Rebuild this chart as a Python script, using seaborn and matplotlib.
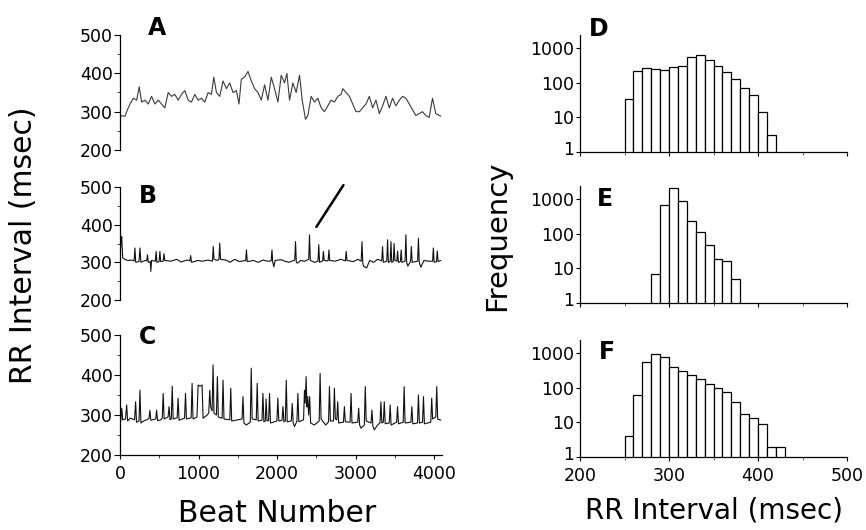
import numpy as np
import pandas as pd
import matplotlib
matplotlib.use("Agg")
import matplotlib.pyplot as plt
import matplotlib.transforms as mtransforms
from matplotlib.ticker import MultipleLocator, FixedLocator, LogLocator, NullFormatter
import seaborn as sns

sns.set_theme(style="white")
plt.rcParams['font.family'] = ['DejaVu Sans']

# ---------------- data ----------------
a_beat = [0, 63, 85, 127, 169, 212, 245, 275, 317, 360, 402, 444, 487, 529, 571, 614, 656, 698,
          741, 783, 825, 868, 910, 952, 995, 1037, 1079, 1122, 1164, 1194, 1228, 1270, 1312, 1355,
          1397, 1439, 1482, 1515, 1545, 1587, 1630, 1672, 1714, 1757, 1799, 1841, 1884, 1926, 1968,
          2011, 2053, 2095, 2125, 2159, 2201, 2243, 2286, 2320, 2362, 2392, 2434, 2476, 2519, 2561,
          2603, 2646, 2688, 2730, 2773, 2815, 2836, 2878, 2921, 2963, 3005, 3048, 3090, 3132, 3175,
          3217, 3259, 3302, 3344, 3386, 3429, 3471, 3513, 3556, 3598, 3640, 3683, 3725, 3767, 3810,
          3852, 3894, 3937, 3979, 4021, 4085]
a_rr = [290, 288, 300, 320, 335, 330, 365, 325, 330, 320, 340, 320, 330, 320, 310, 350, 340, 345,
        330, 345, 355, 330, 325, 345, 330, 335, 325, 350, 345, 390, 350, 340, 380, 360,
        375, 350, 355, 320, 385, 390, 405, 380, 360, 350, 330, 370, 330, 390, 360,
        325, 395, 375, 400, 330, 375, 350, 395, 330, 280, 290, 340, 325, 335, 310,
        300, 315, 330, 325, 340, 345, 360, 350, 340, 320, 300, 300, 310, 320, 340,
        310, 330, 295, 315, 340, 310, 335, 315, 330, 340, 335, 320, 305, 290, 295,
        300, 290, 285, 335, 295, 288]

b_beat = [0, 12, 22, 34, 60, 100, 150, 180, 190, 200, 242, 254, 266, 320, 340, 350, 360, 385, 393,
          401, 450, 460, 470, 498, 508, 518, 550, 560, 570, 650, 720, 780, 850, 890, 900, 910, 990,
          1050, 1120, 1177, 1187, 1197, 1240, 1260, 1270, 1280, 1350, 1400, 1460, 1520, 1600, 1610,
          1620, 1700, 1760, 1820, 1880, 1925, 1935, 1945, 1960, 1975, 2050, 2100, 2150, 2225, 2235,
          2245, 2260, 2300, 2350, 2403, 2413, 2423, 2480, 2521, 2531, 2541, 2580, 2590, 2600, 2650,
          2660, 2670, 2740, 2810, 2870, 2880, 2890, 2970, 3030, 3071, 3081, 3091, 3100, 3140, 3180,
          3230, 3280, 3333, 3343, 3353, 3397, 3407, 3417, 3440, 3450, 3460, 3480, 3490, 3500, 3525,
          3535, 3545, 3570, 3580, 3590, 3630, 3640, 3650, 3665, 3700, 3710, 3720, 3790, 3800, 3810,
          3830, 3870, 3930, 3980, 3990, 4000, 4030, 4040, 4050, 4084]
b_rr = [310, 355, 368, 312, 308, 305, 306, 304, 338, 300, 302, 338, 300, 305, 304, 320, 300, 302, 276,
        305, 303, 329, 300, 302, 329, 302, 303, 323, 305, 303, 308, 301, 306, 304, 318, 300, 305,
        303, 306, 303, 342, 308, 305, 308, 351, 308, 306, 300, 308, 302, 305, 333,
        302, 305, 300, 306, 303, 304, 333, 300, 288, 305, 307, 303, 300, 306, 355,
        300, 298, 305, 303, 308, 373, 305, 300, 303, 347, 300, 304, 329, 305, 304,
        333, 305, 303, 308, 304, 329, 305, 302, 308, 303, 355, 300, 290, 285, 305,
        300, 308, 304, 342, 300, 303, 360, 300, 302, 355, 300, 303, 350, 305, 303,
        330, 300, 302, 333, 300, 303, 373, 300, 290, 303, 342, 300, 303, 364, 300,
        287, 305, 303, 303, 338, 300, 302, 330, 302, 305]

c_beat = [0, 10, 22, 35, 70, 85, 97, 130, 185, 199, 210, 242, 254, 266, 300, 340, 370, 381, 392,
          455, 466, 478, 520, 538, 550, 562, 612, 625, 637, 653, 665, 677, 728, 740, 752, 822, 834,
          846, 906, 918, 930, 980, 995, 1020, 1045, 1058, 1110, 1130, 1143, 1155, 1173, 1185, 1197,
          1228, 1240, 1252, 1300, 1312, 1324, 1398, 1410, 1422, 1500, 1554, 1566, 1578, 1608, 1659,
          1671, 1683, 1735, 1747, 1759, 1808, 1820, 1832, 1850, 1860, 1872, 1892, 1904, 1916, 1950,
          1998, 2010, 2022, 2063, 2075, 2087, 2105, 2117, 2129, 2181, 2193, 2205, 2222, 2253, 2265,
          2277, 2337, 2349, 2358, 2370, 2380, 2390, 2402, 2415, 2427, 2475, 2536, 2548, 2560, 2620,
          2655, 2667, 2679, 2718, 2730, 2742, 2760, 2772, 2784, 2845, 2857, 2869, 2930, 2942, 2954,
          3027, 3039, 3051, 3068, 3111, 3123, 3135, 3196, 3208, 3220, 3238, 3280, 3310, 3322, 3334,
          3353, 3365, 3377, 3428, 3440, 3452, 3522, 3534, 3546, 3606, 3618, 3630, 3704, 3716, 3728,
          3788, 3800, 3812, 3852, 3864, 3876, 3957, 3969, 3981, 4021, 4033, 4045, 4084]
c_rr = [300, 285, 317, 288, 290, 325, 285, 292, 288, 333, 282, 285, 362, 280, 285, 288, 292, 312, 287,
        290, 312, 286, 288, 292, 354, 290, 295, 321, 288, 290, 372, 290, 293, 342, 287, 292, 354,
        290, 293, 379, 290, 295, 375, 372, 375, 292, 300, 305, 362, 320, 310, 425, 305,
        300, 396, 295, 292, 387, 290, 288, 367, 285, 288, 290, 346, 280, 275, 282,
        417, 290, 288, 379, 285, 287, 354, 283, 285, 340, 285, 286, 354, 280, 282,
        285, 342, 285, 287, 321, 283, 285, 387, 283, 285, 329, 280, 271, 285, 354,
        283, 288, 362, 330, 396, 320, 346, 300, 346, 280, 275, 285, 404, 290, 275,
        283, 371, 285, 285, 367, 290, 288, 333, 280, 282, 321, 283, 282, 354, 280,
        282, 317, 275, 267, 275, 371, 285, 280, 312, 272, 263, 275, 280, 333, 280,
        282, 333, 278, 280, 325, 275, 282, 321, 278, 282, 371, 280, 282, 321, 278,
        280, 350, 280, 282, 346, 278, 282, 342, 290, 295, 371, 290, 287]

bin_width = 10
d_left = [250, 260, 270, 280, 290, 300, 310, 320, 330, 340, 350, 360, 370, 380, 390, 400, 410]
d_count = [35, 225, 263, 245, 240, 280, 308, 565, 630, 445, 315, 210, 125, 69, 44, 14, 3]

e_left = [280, 290, 300, 310, 320, 330, 340, 350, 360, 370]
e_count = [7, 690, 2130, 870, 240, 112, 48, 19, 16, 4.8]

f_left = [250, 260, 270, 280, 290, 300, 310, 320, 330, 340, 350, 360, 370, 380, 390, 400, 410, 420]
f_count = [4, 62, 560, 920, 770, 390, 300, 227, 180, 127, 96, 78, 40, 17.5, 13.8, 8.7, 2, 2]

panel_letters = ["A", "B", "C", "D", "E", "F"]

# ---------------- figure ----------------
W, H = 866, 530
fig = plt.figure(figsize=(W / 100, H / 100), dpi=100)

def frac(x0, ytop, x1, ybot):
    return [x0 / W, 1 - ybot / H, (x1 - x0) / W, (ybot - ytop) / H]

ax_a = fig.add_axes(frac(120, 35, 442, 150))
ax_b = fig.add_axes(frac(120, 187, 442, 300))
ax_c = fig.add_axes(frac(120, 335, 442, 455))
ax_d = fig.add_axes(frac(580, 35, 847, 152))
ax_e = fig.add_axes(frac(580, 186, 847, 303))
ax_f = fig.add_axes(frac(580, 340, 847, 457))

tick_fs = 12.5
series = [(ax_a, a_beat, a_rr, "#3a3a3a", 0.8),
          (ax_b, b_beat, b_rr, "#111111", 0.8),
          (ax_c, c_beat, c_rr, "#111111", 0.8)]
for ax, xb, yv, col, lw in series:
    df = pd.DataFrame({"beat": xb, "rr": yv})
    sns.lineplot(data=df, x="beat", y="rr", ax=ax, color=col, linewidth=lw)
    ax.set_xlim(0, 4100)
    ax.set_ylim(200, 500)
    ax.set_xlabel("")
    ax.set_ylabel("")
    for s in ["top", "right"]:
        ax.spines[s].set_visible(False)
    ax.spines["left"].set_color("black")
    ax.spines["left"].set_linewidth(0.9)
    ax.yaxis.set_major_locator(FixedLocator([200, 300, 400, 500]))
    ax.yaxis.set_minor_locator(MultipleLocator(50))
    ax.tick_params(axis="y", which="major", left=True, direction="out", length=4, width=0.8,
                   labelsize=tick_fs, pad=1, colors="black")
    ax.tick_params(axis="y", which="minor", left=True, direction="out", length=2, width=0.6)
    ax.patch.set_alpha(0)

for ax in (ax_a, ax_b):
    ax.spines["bottom"].set_visible(False)
    ax.set_xticks([])

ax_c.spines["bottom"].set_color("black")
ax_c.spines["bottom"].set_linewidth(0.9)
ax_c.xaxis.set_major_locator(FixedLocator([0, 1000, 2000, 3000, 4000]))
ax_c.xaxis.set_minor_locator(MultipleLocator(500))
ax_c.tick_params(axis="x", which="major", bottom=True, direction="out", length=3, width=0.8,
                 labelsize=tick_fs, pad=4, colors="black")
ax_c.tick_params(axis="x", which="minor", bottom=True, direction="out", length=2, width=0.6)

hists = [(ax_d, d_left, d_count), (ax_e, e_left, e_count), (ax_f, f_left, f_count)]
for ax, left, cnt in hists:
    centers = [l + bin_width / 2 for l in left]
    edges = list(left) + [left[-1] + bin_width]
    sns.histplot(x=centers, weights=cnt, bins=edges, ax=ax, color="white", edgecolor="black",
                 linewidth=0.9, alpha=1.0)
    ax.set_yscale("log")
    ax.set_ylim(1, 2400)
    ax.set_xlim(200, 500)
    ax.set_xlabel("")
    ax.set_ylabel("")
    for s in ["top", "right"]:
        ax.spines[s].set_visible(False)
    for s in ["left", "bottom"]:
        ax.spines[s].set_color("black")
        ax.spines[s].set_linewidth(0.9)
    ax.yaxis.set_major_locator(FixedLocator([1, 10, 100, 1000]))
    ax.set_yticklabels(["1", "10", "100", "1000"])
    ax.yaxis.set_minor_locator(LogLocator(base=10, subs=np.arange(2, 10)))
    ax.yaxis.set_minor_formatter(NullFormatter())
    ax.xaxis.set_major_locator(FixedLocator([200, 300, 400, 500]))
    ax.xaxis.set_minor_locator(MultipleLocator(50))
    ax.tick_params(axis="y", which="major", left=True, direction="out",
                   length=3, width=0.8, labelsize=tick_fs, pad=1, colors="black")
    ax.tick_params(axis="x", which="major", bottom=True, direction="out",
                   length=3, width=0.8, labelsize=tick_fs, pad=4, colors="black")
    ax.tick_params(axis="both", which="minor", left=True, bottom=True, direction="out",
                   length=1.8, width=0.5)
    ax.patch.set_alpha(0)
    # the "1" label sits a few pixels above the axis line, as in the reference
    shift = mtransforms.ScaledTranslation(0, 3.5 / 100, fig.dpi_scale_trans)
    for lbl in ax.get_yticklabels():
        if lbl.get_text() == "1":
            lbl.set_transform(lbl.get_transform() + shift)

for ax in (ax_d, ax_e):
    ax.tick_params(axis="x", labelbottom=False)

# arrow in panel B (plain stroke pointing at the spike)
ax_b.annotate("", xy=(2500, 394), xytext=(2845, 505),
              arrowprops=dict(arrowstyle="-", color="black", lw=1.8, shrinkA=0, shrinkB=0),
              annotation_clip=False)

# panel letters
letter_pos = [(157, 28), (148, 196), (148, 337), (599, 29), (605, 199), (607, 352)]
for letter, (px, py) in zip(panel_letters, letter_pos):
    fig.text(px / W, 1 - py / H, letter, fontsize=17, fontweight="bold", ha="center",
             va="center", color="black")

# axis labels
fig.text(24 / W, 1 - 245 / H, "RR Interval (msec)", rotation=90, fontsize=21.5,
         ha="center", va="center", color="black")
fig.text(277 / W, 1 - 513 / H, "Beat Number", fontsize=21.5, ha="center", va="center",
         color="black")
fig.text(497 / W, 1 - 236 / H, "Frequency", rotation=90, fontsize=21, ha="center",
         va="center", color="black")
fig.text(714 / W, 1 - 511 / H, "RR Interval (msec)", fontsize=20, ha="center",
         va="center", color="black")

fig.savefig("out.png", dpi=100, facecolor="white")
